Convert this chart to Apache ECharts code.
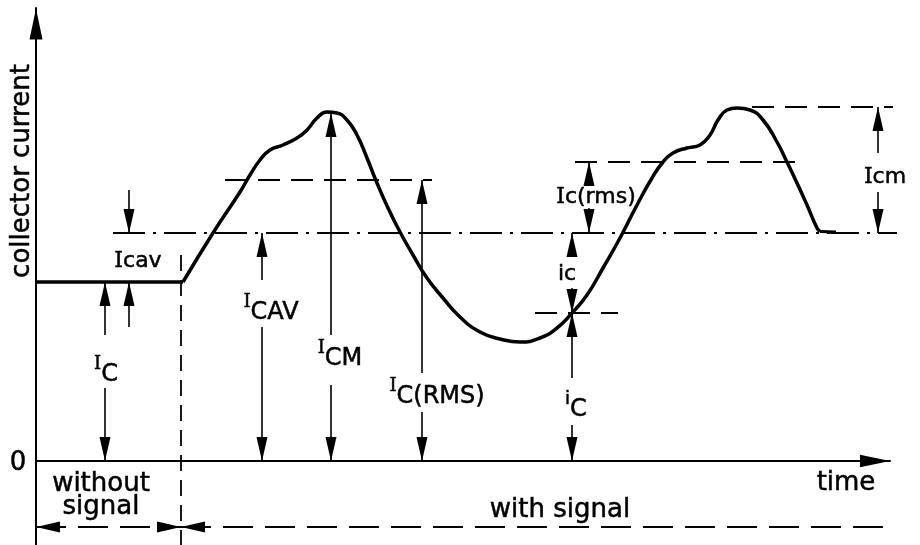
<!DOCTYPE html>
<html><head><meta charset="utf-8">
<script src="https://cdn.jsdelivr.net/npm/echarts@6/dist/echarts.min.js"></script>
<style>html,body{margin:0;padding:0;background:#fff}#c{width:920px;height:545px}</style>
</head><body><div id="c"></div>
<script>
// ---- data (time and collector current, arbitrary units) ----
const quiescentCurve = [[0,17.9],[14.7,17.9]];
const signalCurve = [[14.7,17.9],[17.7,22.8],[20.4,26.9],[21.4,28.6],[22.4,30.1],[23.4,31.1],[24.7,31.6],
  [26.1,32.3],[27.1,33.1],[28.1,34.3],[29.1,34.9],[30.1,34.8],[31.1,34.1],[32.1,32.6],[33.1,30.3],
  [34.1,27.8],[35.2,25.3],[36.4,22.9],[37.7,20.6],[39.1,18.3],[40.7,16.3],[42.4,14.4],[44.4,12.9],
  [46.4,12.2],[48.4,11.9],[50.4,12.3],[52.1,13.3],[53.6,14.8],[55.1,16.6],[56.7,19.3],[58.4,22.3],
  [60.1,25.6],[61.6,28.3],[62.7,29.9],[63.7,30.8],[65.1,31.3],[66.4,31.6],[67.4,32.6],[68.2,34.1],
  [69.1,35.1],[70.1,35.3],[71.4,35.1],[72.7,34.1],[74.1,31.9],[75.1,29.9],[76.1,27.8],[77.1,25.6],
  [78.1,23.3],[78.4,22.95]];
const tailCurve = [[78.4,22.95],[80.0,22.9]];

const dashedLevelY    = [28.1, 29.9, 35.4, 14.8];
const dashedLevelFrom = [18.9, 53.9, 71.6, 49.9];
const dashedLevelTo   = [39.6, 76.4, 85.7, 58.2];
const averageLevel = [[7.7,22.8],[86.1,22.8]];
const boundaryLine = [[14.5,20.6],[14.5,-8.4]];
const spanWithout = [[0,-6.6],[14.5,-6.6]];
const spanWith = [[14.5,-6.6],[85.4,-6.6]];

// vertical arrows: [x, tail, tip]
const verticalArrows = [
  [6.9,12.6,17.9],[6.9,7.3,0],
  [9.3,13.4,17.9],[9.3,27.1,22.8],
  [22.6,18.1,22.8],[22.6,13.4,0],
  [29.5,12.6,34.8],[29.5,7.6,0],
  [38.6,8.8,28.1],[38.6,4.9,0],
  [53.6,8.3,14.8],[53.6,3.6,0],
  [53.6,20.6,22.8],[53.6,17.3,14.8],
  [55.3,27.6,29.9],[55.3,25.3,22.8],
  [84.2,30.8,35.4],[84.2,26.9,22.8]
];
// horizontal arrow tips: [x, y, direction]
const horizontalTips = [[0,-6.6,'left'],[14.5,-6.6,'right'],[14.5,-6.6,'left']];

const labelText = [
  '{t|collector current}', '{t|0}', '{t|without}\n{t|signal}', '{t|with signal}', '{t|time}',
  '{I|I}{sub|C}', '{I2|I}{s|cav}', '{I|I}{sub|CAV}', '{I|I}{sub|CM}', '{I|I}{sub|C(RMS)}',
  '{i|i}{sub|C}', '{s|ic}', '{I2|I}{s|c(rms)}', '{I2|I}{s|cm}'
];
const labelAt = [
  [-1.4,29.0],[-1.8,-0.2],[6.5,-3.5],[52.4,-4.9],[81.0,-2.2],
  [7.0,9.0],[10.2,20.0],[23.5,15.2],[30.4,10.6],[40.1,6.8],
  [54.0,5.5],[53.1,18.7],[56.0,26.4],[84.9,28.4]
];

// ---- rendering ----
const BLACK = '#000';
const arrowPath = 'path://M5,0 L10,24 L0,24 Z';
const HEAD = [11, 24];

const shaftData = verticalArrows.map(a => ({coords: [[a[0], a[1]], [a[0], a[2]]]}));
const headData = verticalArrows.map(a => {
  const up = a[2] > a[1];
  return {value: [a[0], a[2]], symbolRotate: up ? 0 : 180, symbolOffset: [0, up ? HEAD[1]/2 : -HEAD[1]/2]};
}).concat(horizontalTips.map(h => ({
  value: [h[0], h[1]],
  symbolRotate: h[2] === 'left' ? 90 : -90,
  symbolOffset: [h[2] === 'left' ? HEAD[1]/2 : -HEAD[1]/2, 0]
})));

const ink = {color: BLACK, textBorderColor: BLACK, textBorderWidth: 0.5, opacity: 1};
const rich = {
  t: Object.assign({fontFamily: 'DejaVu Sans', fontSize: 26, lineHeight: 23}, ink),
  s: Object.assign({fontFamily: 'DejaVu Sans', fontSize: 22}, ink),
  I: Object.assign({fontFamily: 'DejaVu Serif', fontSize: 18, verticalAlign: 'top'}, ink),
  I2: Object.assign({fontFamily: 'DejaVu Serif', fontSize: 22}, ink),
  i: Object.assign({fontFamily: 'DejaVu Sans', fontSize: 18, verticalAlign: 'top'}, ink),
  sub: Object.assign({fontFamily: 'DejaVu Sans', fontSize: 24, padding: [7, 0, 0, 0]}, ink)
};

const labelData = labelText.map((txt, k) => ({
  value: labelAt[k],
  label: {formatter: txt, rotate: k === 0 ? 90 : 0}
}));

const solid = (w) => ({color: BLACK, width: w, opacity: 1});

const chart = echarts.init(document.getElementById('c'), null, {renderer: 'canvas'});
chart.setOption({
  animation: false,
  backgroundColor: '#fff',
  grid: {left: 36, right: 30, top: 8, bottom: 0, containLabel: false},
  xAxis: {
    type: 'value', min: 0, max: 85.4,
    axisLine: {onZero: true, lineStyle: {color: BLACK, width: 2},
      symbol: ['none', arrowPath], symbolSize: [13, 30], symbolOffset: [0, -15]},
    axisTick: {show: false}, axisLabel: {show: false}, splitLine: {show: false}
  },
  yAxis: {
    type: 'value', min: -8.4, max: 45.3,
    axisLine: {onZero: true, lineStyle: {color: BLACK, width: 2},
      symbol: ['none', arrowPath], symbolSize: [13, 32], symbolOffset: [0, -16]},
    axisTick: {show: false}, axisLabel: {show: false}, splitLine: {show: false}
  },
  series: [
    {type: 'line', data: quiescentCurve, symbol: 'none', lineStyle: solid(3.5), z: 5, silent: true, clip: false},
    {type: 'line', data: signalCurve, smooth: 0.5, symbol: 'none', lineStyle: solid(3.5), z: 5, silent: true, clip: false},
    {type: 'line', data: tailCurve, symbol: 'none', lineStyle: solid(3), z: 5, silent: true, clip: false},
    {type: 'lines', coordinateSystem: 'cartesian2d', silent: true, clip: false,
      data: dashedLevelY.map((y, k) => ({coords: [[dashedLevelFrom[k], y], [dashedLevelTo[k], y]]})),
      lineStyle: {color: BLACK, width: 1.8, opacity: 1, type: [22, 11]}},
    {type: 'lines', coordinateSystem: 'cartesian2d', silent: true, clip: false,
      data: [{coords: averageLevel}],
      lineStyle: {color: BLACK, width: 1.8, opacity: 1, type: [32, 8, 3, 8]}},
    {type: 'lines', coordinateSystem: 'cartesian2d', silent: true, clip: false,
      data: [{coords: boundaryLine}],
      lineStyle: {color: BLACK, width: 1.8, opacity: 1, type: [16, 9]}},
    {type: 'lines', coordinateSystem: 'cartesian2d', silent: true, clip: false,
      data: [{coords: spanWithout}, {coords: spanWith}],
      lineStyle: {color: BLACK, width: 1.8, opacity: 1, type: [30, 12]}},
    {type: 'lines', coordinateSystem: 'cartesian2d', silent: true, clip: false,
      data: shaftData, lineStyle: {color: BLACK, width: 1.6, opacity: 1, type: 'solid'}},
    {type: 'scatter', data: headData, symbol: arrowPath, symbolSize: HEAD, silent: true, clip: false,
      itemStyle: {color: BLACK, opacity: 1}, z: 6},
    {type: 'scatter', data: labelData, symbolSize: 0, silent: true, clip: false, z: 7,
      itemStyle: {color: BLACK, opacity: 1},
      label: {show: true, position: 'inside', rich: rich, color: BLACK, opacity: 1}}
  ]
});
</script></body></html>
